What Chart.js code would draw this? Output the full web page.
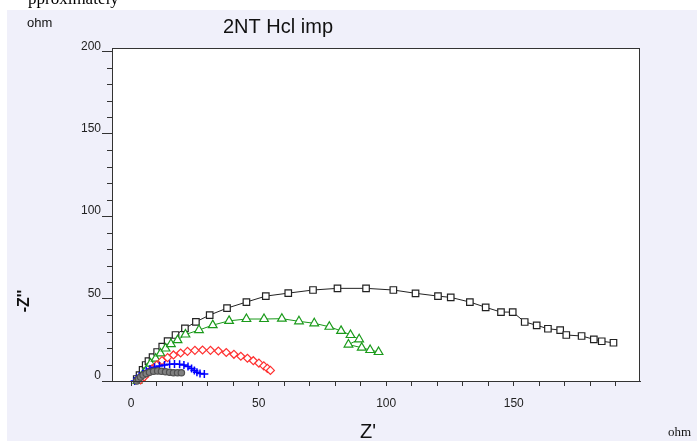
<!DOCTYPE html>
<html><head><meta charset="utf-8">
<script src="https://cdn.jsdelivr.net/npm/chart.js@4/dist/chart.umd.min.js"></script>
<style>
html,body{margin:0;padding:0;background:#fff;}
#c{display:block;}
</style></head><body>
<canvas id="c" width="697" height="441"></canvas>
<script>
// Z' (real, ohm) and -Z'' (imaginary, ohm) for each curve
const blackRe = [2.2,3.3,4.5,5.7,6.8,8.4,10.2,12.2,14.3,17.4,21.1,25.4,30.8,37.6,45.2,52.8,61.6,71.3,80.9,92.1,102.8,111.5,120.3,125.3,132.8,139.0,145.0,149.6,154.3,159.0,163.4,168.2,170.6,176.6,181.4,184.5,189.1];
const blackIm = [1.2,3.6,6.7,9.7,12.1,14.5,17.6,20.9,24.2,27.9,31.9,35.9,40.0,44.2,47.9,51.5,53.3,55.2,56.2,56.2,55.2,53.2,51.5,50.7,47.9,44.7,41.8,41.8,35.8,33.8,31.7,30.9,27.9,27.3,25.3,24.1,23.2];
const greenRe = [2.5,3.7,4.9,6.3,7.6,9.6,11.5,13.5,15.6,18.2,21.3,26.6,32.0,38.4,45.2,52.1,59.1,65.8,71.8,77.7,82.3,86.0,89.4,85.2,90.4,93.7,97.0];
const greenIm = [0,2.1,4.8,7.6,10.6,13.6,16.7,19.7,22.4,24.8,28.2,30.9,33.9,36.5,37.6,37.6,37.8,36.2,35.0,32.9,30.4,27.9,25.3,22.1,20.2,18.8,17.6];
const redRe = [3.7,5.1,6.6,8.2,10.0,12.1,14.3,16.6,19.4,22.1,25.0,28.0,31.1,34.2,37.3,40.3,43.0,45.6,47.9,50.1,52.0,53.4,54.6];
const redIm = [0.6,2.4,4.8,7.3,9.7,12.4,14.2,15.8,17.0,18.0,18.6,18.8,18.6,18.2,17.3,16.2,15.0,13.8,12.3,10.8,9.2,7.7,6.4];
const blueRe = [1.4,2.3,3.3,4.5,5.9,7.4,9.2,11.1,13.1,15.1,17.0,19.0,20.7,22.3,23.7,24.8,25.8,27.0,28.7];
const blueIm = [0,1.5,3.0,4.5,6.1,7.3,8.3,9.1,9.7,10.1,10.3,10.1,9.7,8.8,7.6,6.4,5.3,4.5,4.2];
const grayRe = [2.2,2.9,3.7,4.7,5.9,7.2,8.8,10.4,11.9,13.5,15.1,16.6,18.2,19.7];
const grayIm = [0,1.2,2.4,3.6,4.5,5.3,5.9,6.1,5.9,5.6,5.3,5.0,5.0,5.0];

const xMajorTicks = [0,50,100,150];
const yMajorTicks = [0,50,100,150,200];
const titleText = "2NT Hcl imp";
const xTitle = "Z'";
const yTitle = "-Z''";
const unitText = "ohm";

const pts = (xs, ys) => xs.map((x, i) => ({x, y: ys[i]}));
const SANS = "'Liberation Sans', Arial, sans-serif";
const SERIF = "'Liberation Serif', 'Times New Roman', serif";

const decor = {
  id: 'decor',
  beforeDraw(chart) {
    const {ctx, chartArea: a} = chart;
    ctx.save();
    ctx.fillStyle = '#ffffff';
    ctx.fillRect(0, 0, chart.width, chart.height);
    ctx.fillStyle = '#f0f0fa';
    ctx.fillRect(7, 10, chart.width - 7, chart.height - 10);
    ctx.fillStyle = '#ffffff';
    ctx.fillRect(a.left, a.top, a.right - a.left, a.bottom - a.top);
    ctx.restore();
  },
  afterDraw(chart) {
    const {ctx, chartArea: a, scales} = chart;
    ctx.save();
    // frame
    ctx.strokeStyle = '#333';
    ctx.lineWidth = 1;
    ctx.strokeRect(a.left + 0.5, a.top + 0.5, a.right - a.left - 1, a.bottom - a.top);
    // minor y ticks
    for (let v = 10; v <= 190; v += 10) {
      if (v % 50 === 0) continue;
      const py = Math.round(scales.y.getPixelForValue(v)) + 0.5;
      ctx.beginPath();
      ctx.moveTo(a.left - 5, py);
      ctx.lineTo(a.left, py);
      ctx.stroke();
    }
    // texts
    ctx.fillStyle = '#000';
    ctx.textBaseline = 'alphabetic';
    ctx.font = '17px ' + SERIF;
    ctx.textAlign = 'left';
    ctx.fillText('pproximately', 28, 4);
    ctx.fillStyle = '#f0f0fa';
    ctx.fillRect(7, 10, 200, 2);
    ctx.fillStyle = '#111';
    ctx.font = '13px ' + SANS;
    ctx.fillText(unitText, 27, 27);
    ctx.font = '20px ' + SANS;
    ctx.textAlign = 'center';
    ctx.fillText(titleText, 278, 33);
    ctx.font = '20px ' + SANS;
    ctx.fillText(xTitle, 368, 438);
    ctx.font = '13px ' + SERIF;
    ctx.textAlign = 'left';
    ctx.fillText(unitText, 668, 436);
    ctx.translate(25, 301);
    ctx.rotate(-Math.PI / 2);
    ctx.font = 'bold 16px ' + SANS;
    ctx.textAlign = 'center';
    ctx.textBaseline = 'middle';
    ctx.fillText(yTitle, 0, 0);
    ctx.restore();
  }
};

const ds = (label, data, color, style, r, extra) => Object.assign({
  label, data, showLine: true, tension: 0,
  borderColor: color, borderWidth: 1,
  pointStyle: style, pointRadius: r, pointHoverRadius: r,
  pointBorderColor: color, pointBackgroundColor: '#ffffff', pointBorderWidth: 1.2,
  clip: 6
}, extra || {});

new Chart(document.getElementById('c'), {
  type: 'scatter',
  data: {
    datasets: [
      ds('gray', pts(grayRe, grayIm), '#505050', 'circle', 3.2, {pointBackgroundColor: '#808080', borderColor: '#808080', borderWidth: 3}),
      ds('blue', pts(blueRe, blueIm), '#0000ff', 'cross', 4, {pointBorderWidth: 1.5}),
      ds('red', pts(redRe, redIm), '#ff3030', 'rectRot', 4),
      ds('green', pts(greenRe, greenIm), '#1a9a1a', 'triangle', 5),
      ds('black', pts(blackRe, blackIm), '#222222', 'rect', 4.6)
    ]
  },
  plugins: [decor],
  options: {
    responsive: false, animation: false, devicePixelRatio: 1,
    layout: {padding: {left: 0, top: 48, right: 57, bottom: 0}},
    plugins: {legend: {display: false}, tooltip: {enabled: false}, title: {display: false}},
    scales: {
      x: {
        type: 'linear', min: -7.5, max: 199.5,
        afterFit: s => { s.height = 60; },
        border: {display: true, color: '#333'},
        grid: {drawOnChartArea: false, tickLength: 5, color: '#333'},
        ticks: {
          stepSize: 10, includeBounds: false, autoSkip: false, maxRotation: 0,
          padding: 10, color: '#222', font: {family: SANS, size: 12},
          callback: v => xMajorTicks.includes(v) ? String(v) : ''
        }
      },
      y: {
        type: 'linear', min: 0, max: 202,
        afterFit: s => { s.width = 112; },
        border: {display: true, color: '#333'},
        grid: {drawOnChartArea: false, tickLength: 10,
          color: c => (c.tick && yMajorTicks.includes(c.tick.value)) ? '#333' : 'rgba(0,0,0,0)'},
        ticks: {
          stepSize: 10, includeBounds: false, autoSkip: false,
          padding: 1, labelOffset: -5, color: '#222', font: {family: SANS, size: 12},
          callback: v => yMajorTicks.includes(v) ? String(v) : ''
        }
      }
    }
  }
});
</script>
</body></html>
